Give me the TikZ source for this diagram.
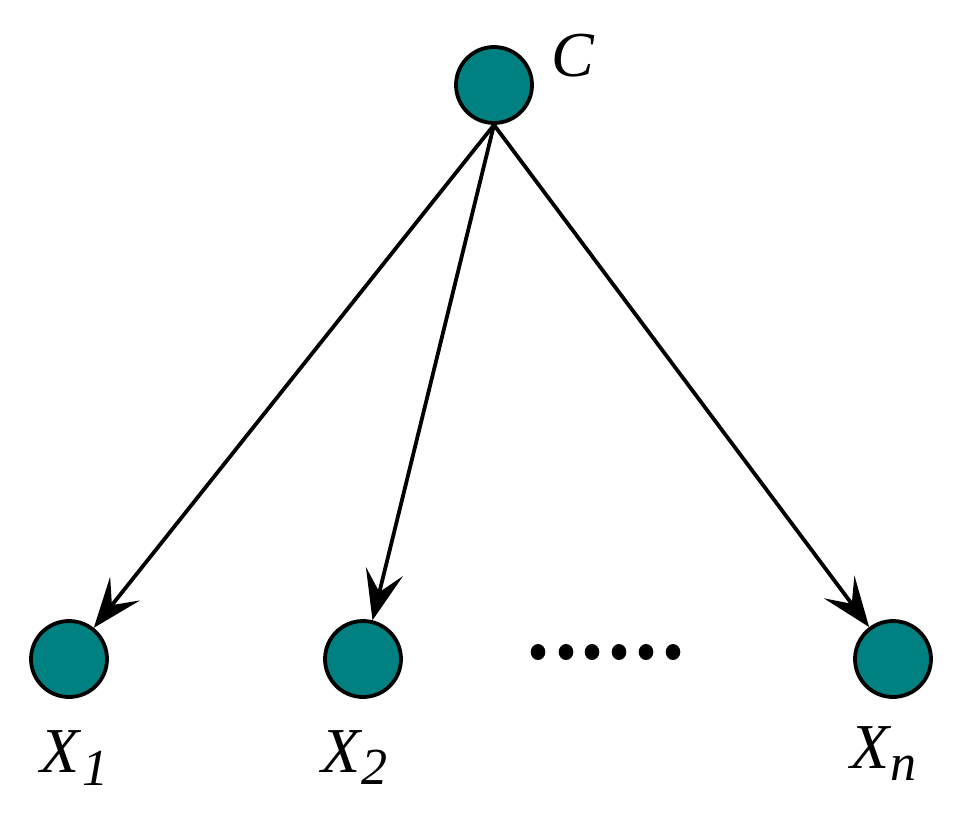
\documentclass[tikz,border=0pt]{standalone}
\usepackage{fontspec}
\setmainfont{Liberation Serif}
\usetikzlibrary{arrows.meta}
\definecolor{tealfill}{RGB}{0,128,128}
\begin{document}
\begin{tikzpicture}[x=1pt,y=-1pt,
  var/.style={circle,draw=black,fill=tealfill,line width=3.8pt,minimum size=76pt,inner sep=0pt},
  lbl/.style={inner sep=0pt,font=\fontsize{64}{64}\selectfont\itshape},
  conn/.style={line width=3.8pt,arrows={-Stealth[length=50pt,width=38pt,inset=21pt]}},
  dot/.style={fill=black,draw=none}]
\useasboundingbox (0,0) rectangle (964,815);
\node[var] (C) at (494,85) {};
\node[var] (X1) at (69,659) {};
\node[var] (X2) at (363,659) {};
\node[var] (Xn) at (893,659) {};
\node[lbl,anchor=base west] (lC) at (551,76) {C};
\node[lbl,anchor=base west] (lX1) at (40,772) {X\hspace{3pt}\raisebox{-13pt}{\fontsize{52}{52}\selectfont 1}};
\node[lbl,anchor=base west] (lX2) at (321,772) {X\hspace{1pt}\raisebox{-12pt}{\fontsize{52}{52}\selectfont 2}};
\node[lbl,anchor=base west] (lXn) at (850,768) {X\hspace{1pt}\raisebox{-12pt}{\fontsize{52}{52}\selectfont n}};
\draw[conn] (C.south) -- (X1);
\draw[conn] (C.south) -- (X2);
\draw[conn] (C.south) -- (Xn);
\foreach \i/\x in {1/538,2/566,3/592,4/619,5/646,6/673}
  \fill[dot] (\x,652) ellipse [x radius=7.3pt, y radius=8pt];
\end{tikzpicture}
\end{document}
